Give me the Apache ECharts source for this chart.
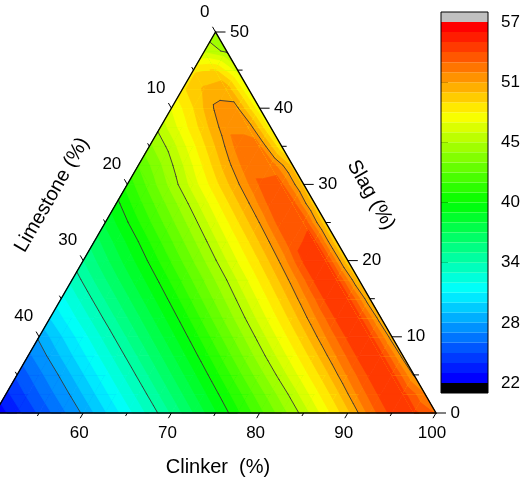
<!DOCTYPE html>
<html><head><meta charset="utf-8">
<script src="https://cdn.jsdelivr.net/npm/echarts@6/dist/echarts.min.js"></script>
<style>html,body{margin:0;padding:0;background:#fff}#c{width:525px;height:480px}</style>
</head><body><div id="c"></div>
<script>
// ---------------- data ----------------
const zMin = 22, zMax = 57, nBands = 36;          // colour scale range and number of bands
const contourEvery = 6;                           // contour line every 6 bands (= colour-bar ticks)
const colorbarTickLabels = ['22', '28', '34', '40', '45', '51', '57'];
const clinkerTicks = [50, 60, 70, 80, 90, 100];
const limestoneTicks = [0, 10, 20, 30, 40, 50];
const slagTicks = [0, 10, 20, 30, 40, 50];
const latticeStep = 2.5;
// Slag (%) of each lattice row
const slagRows = [0, 2.5, 5, 7.5, 10, 12.5, 15, 17.5, 20, 22.5, 25, 27.5, 30, 32.5, 35, 37.5, 40, 42.5, 45, 47.5, 50];
// response values; row r: Slag = slagRows[r], Limestone from (50 - Slag) down to 0 in steps of 2.5
const zRows = [
  [22.2, 23.64, 25.08, 26.53, 28.0, 29.67, 31.33, 33.0, 34.76, 36.58, 38.41, 40.23, 42.05, 43.87, 45.75, 47.84, 49.92, 52.53, 54.44, 54.4, 53.0],
  [23.7, 25.13, 26.57, 28.03, 29.69, 31.35, 33.01, 34.75, 36.55, 38.35, 40.16, 42.0, 43.85, 45.74, 47.8, 49.85, 52.43, 54.38, 54.45, 52.1],
  [25.1, 26.55, 28.03, 29.69, 31.35, 33.01, 34.74, 36.52, 38.29, 40.11, 42.0, 43.89, 45.81, 47.81, 49.81, 52.29, 54.33, 54.5, 51.03],
  [26.6, 28.06, 29.71, 31.36, 33.01, 34.72, 36.48, 38.24, 40.04, 41.96, 43.88, 45.81, 47.79, 49.78, 52.19, 54.33, 54.5, 50.8],
  [28.0, 29.67, 31.33, 33.0, 34.71, 36.45, 38.18, 39.96, 41.88, 43.79, 45.73, 47.73, 49.73, 52.1, 54.3, 54.5, 50.63],
  [29.8, 31.41, 33.02, 34.7, 36.41, 38.13, 39.88, 41.8, 43.72, 45.65, 47.65, 49.65, 51.97, 54.3, 54.5, 50.44],
  [31.4, 33.02, 34.69, 36.38, 38.08, 39.8, 41.7, 43.59, 45.49, 47.5, 49.52, 51.78, 54.3, 54.5, 50.19],
  [33.0, 34.68, 36.35, 38.03, 39.72, 41.59, 43.46, 45.33, 47.36, 49.39, 51.59, 54.28, 54.45, 49.76],
  [34.6, 36.28, 37.96, 39.65, 41.52, 43.38, 45.26, 47.28, 49.27, 51.45, 54.28, 54.4, 49.35],
  [36.1, 37.8, 39.5, 41.37, 43.24, 45.11, 47.14, 49.16, 51.32, 53.9, 54.3, 49.25],
  [37.7, 39.43, 41.27, 43.11, 44.96, 47.0, 49.08, 51.2, 53.8, 53.95, 49.32],
  [39.2, 41.07, 42.94, 44.81, 46.85, 48.97, 51.1, 53.5, 53.6, 49.55],
  [40.8, 42.75, 44.71, 46.77, 48.88, 51.0, 53.2, 53.3, 49.75],
  [42.4, 44.21, 46.19, 48.46, 50.72, 52.9, 52.9, 49.81],
  [44.1, 45.77, 48.0, 50.2, 52.5, 52.3, 48.3],
  [45.7, 47.74, 49.78, 51.9, 51.9, 47.8],
  [47.3, 49.2, 51.35, 51.3, 47.5],
  [49.0, 50.4, 50.9, 47.2],
  [49.0, 49.3, 46.8],
  [46.0, 45.1],
  [44.6]
];

// ---------------- helpers ----------------
const FONT = '"Liberation Sans", Arial, Helvetica, sans-serif';
const SQ = Math.sqrt(3) / 2;
const bw = (zMax - zMin) / nBands;
function toXY(S, L) { const C = 100 - S - L; return [C + S / 2, S * SQ]; }
function bandOf(v) { const k = Math.floor((v - zMin) / bw + 1e-9); return k < 0 ? -1 : (k >= nBands ? nBands : k); }
const stops = [[0, 0, 255], [0, 255, 255], [0, 255, 0], [255, 255, 0], [255, 0, 0]];
function rainbow(t) {
  const p = Math.max(0, Math.min(1, t)) * (stops.length - 1);
  const i = Math.min(stops.length - 2, Math.floor(p)), f = p - i;
  const a = stops[i], b = stops[i + 1];
  return 'rgb(' + a.map((c, n) => Math.round(c + (b[n] - c) * f)).join(',') + ')';
}
function bandColor(k) { if (k < 0) return '#000000'; if (k >= nBands) return '#c0c0c0'; return rainbow(k / (nBands - 1)); }

const tris = [];
for (let i = 0; i < slagRows.length - 1; i++) {
  const row = zRows[i], up = zRows[i + 1], S0 = slagRows[i], S1 = slagRows[i + 1];
  const Lp = (S, j) => 50 - S - latticeStep * j;
  for (let j = 0; j < row.length - 1; j++) {
    tris.push([[S0, Lp(S0, j), row[j]], [S0, Lp(S0, j + 1), row[j + 1]], [S1, Lp(S1, j), up[j]]]);
    if (j + 1 < up.length) tris.push([[S0, Lp(S0, j + 1), row[j + 1]], [S1, Lp(S1, j + 1), up[j + 1]], [S1, Lp(S1, j), up[j]]]);
  }
}
const triData = tris.map(t => { const c = t.map(p => toXY(p[0], p[1])); return [(c[0][0] + c[1][0] + c[2][0]) / 3, (c[0][1] + c[1][1] + c[2][1]) / 3]; });

function clipAbove(poly, lev) {
  const out = [];
  for (let a = 0; a < poly.length; a++) {
    const P = poly[a], Q = poly[(a + 1) % poly.length];
    const pin = P[2] >= lev, qin = Q[2] >= lev;
    if (pin) out.push(P);
    if (pin !== qin) { const t = (lev - P[2]) / (Q[2] - P[2]); out.push([P[0] + t * (Q[0] - P[0]), P[1] + t * (Q[1] - P[1]), lev]); }
  }
  return out;
}
function triPixels(api, idx) { return tris[idx].map(p => { const c = api.coord(toXY(p[0], p[1])); return [c[0], c[1], p[2]]; }); }

function renderFill(params, api) {
  const pts = triPixels(api, params.dataIndex);
  const vals = pts.map(p => p[2]);
  const kLo = bandOf(Math.min(...vals)), kHi = bandOf(Math.max(...vals));
  const children = [];
  const c0 = bandColor(kLo);
  children.push({ type: 'polygon', shape: { points: pts.map(p => [p[0], p[1]]) }, style: { fill: c0, stroke: c0, lineWidth: 0.8, lineJoin: 'round' } });
  for (let k = kLo + 1; k <= kHi; k++) {
    const poly = clipAbove(pts, zMin + k * bw);
    if (poly.length >= 3) {
      const c = bandColor(k);
      children.push({ type: 'polygon', shape: { points: poly.map(p => [p[0], p[1]]) }, style: { fill: c, stroke: c, lineWidth: 0.8, lineJoin: 'round' } });
    }
  }
  return { type: 'group', children };
}
const contourLevels = [];
for (let k = contourEvery; k < nBands; k += contourEvery) contourLevels.push(zMin + k * bw);
function renderLines(params, api) {
  const pts = triPixels(api, params.dataIndex);
  const children = [];
  contourLevels.forEach(lev => {
    const cross = [];
    for (let a = 0; a < 3; a++) {
      const P = pts[a], Q = pts[(a + 1) % 3];
      if ((P[2] >= lev) !== (Q[2] >= lev)) { const t = (lev - P[2]) / (Q[2] - P[2]); cross.push([P[0] + t * (Q[0] - P[0]), P[1] + t * (Q[1] - P[1])]); }
    }
    if (cross.length === 2) children.push({ type: 'line', shape: { x1: cross[0][0], y1: cross[0][1], x2: cross[1][0], y2: cross[1][1] }, style: { stroke: '#353535', lineWidth: 0.9, lineCap: 'round' } });
  });
  return { type: 'group', children };
}
function txt(x, y, s, align, size) {
  return { type: 'text', x, y, style: { text: s, fill: '#000', fontSize: size, fontFamily: FONT, align, verticalAlign: 'middle' } };
}
function renderFrame(params, api) {
  const ch = [];
  const A = api.coord(toXY(50, 0)), BL = api.coord(toXY(0, 50)), BR = api.coord(toXY(0, 0));
  ch.push({ type: 'polygon', shape: { points: [A, BL, BR] }, style: { fill: 'none', stroke: '#000', lineWidth: 1.4 } });
  const tick = (p, dx, dy, len) => ch.push({ type: 'line', shape: { x1: p[0], y1: p[1], x2: p[0] + dx * len, y2: p[1] + dy * len }, style: { stroke: '#000', lineWidth: 1 } });
  const minor = arr => arr.slice(0, -1).map((v, i) => (v + arr[i + 1]) / 2);
  // Clinker (bottom)
  clinkerTicks.forEach(C => { const p = api.coord(toXY(0, 100 - C)); tick(p, -0.5, SQ, 6); ch.push(txt(p[0] - 4, p[1] + 20, String(C), 'center', 17)); });
  minor(clinkerTicks).forEach(C => tick(api.coord(toXY(0, 100 - C)), -0.5, SQ, 3.5));
  // Limestone (left)
  limestoneTicks.forEach(L => { const p = api.coord(toXY(50 - L, L)); tick(p, -0.5, -SQ, 6); ch.push(txt(p[0] - 6, p[1] - 20, String(L), 'right', 17)); });
  minor(limestoneTicks).forEach(L => tick(api.coord(toXY(50 - L, L)), -0.5, -SQ, 3.5));
  // Slag (right)
  slagTicks.forEach(S => { const p = api.coord(toXY(S, 0)); tick(p, 1, 0, 10); ch.push(txt(p[0] + 14.5, p[1], String(S), 'left', 17)); });
  minor(slagTicks).forEach(S => tick(api.coord(toXY(S, 0)), 1, 0, 5));
  return { type: 'group', children: ch };
}
const cbItems = [];
for (let k = -1; k <= nBands; k++) cbItems.push([0.5, k + 0.5]);
function renderBar(params, api) {
  const k = params.dataIndex - 1;
  const p0 = api.coord([0, k]), p1 = api.coord([1, k + 1]);
  return { type: 'rect', shape: { x: p0[0], y: p1[1], width: p1[0] - p0[0], height: p0[1] - p1[1] }, style: { fill: bandColor(k) } };
}
function renderBarBorder(params, api) {
  const p0 = api.coord([0, -1]), p1 = api.coord([1, nBands + 1]);
  return { type: 'rect', shape: { x: p0[0], y: p1[1], width: p1[0] - p0[0], height: p0[1] - p1[1] }, style: { fill: 'none', stroke: '#000', lineWidth: 1 } };
}
const cbTickVals = colorbarTickLabels.map((_, i) => i * contourEvery);

const chart = echarts.init(document.getElementById('c'), null, { renderer: 'canvas' });
chart.setOption({
  animation: false,
  backgroundColor: '#ffffff',
  grid: [
    { left: -5, top: 32, width: 441, height: 381, outerBoundsMode: 'none' },
    { left: 441, top: 12, width: 47, height: 381, outerBoundsMode: 'none' }
  ],
  xAxis: [
    { gridIndex: 0, type: 'value', min: 50, max: 100, show: false },
    { gridIndex: 1, type: 'value', min: 0, max: 1, show: false }
  ],
  yAxis: [
    { gridIndex: 0, type: 'value', min: 0, max: 50 * SQ, show: false },
    {
      gridIndex: 1, type: 'value', min: -1, max: nBands + 1, position: 'right',
      axisLine: { show: false }, splitLine: { show: false },
      axisTick: { show: true, customValues: cbTickVals, length: 7, lineStyle: { color: '#000', width: 1 } },
      axisLabel: { customValues: cbTickVals, margin: 13, fontSize: 17, color: '#000', fontFamily: FONT,
        formatter: v => colorbarTickLabels[Math.round(v / contourEvery)] }
    }
  ],
  graphic: [
    { type: 'text', x: 218, y: 467, style: { text: 'Clinker  (%)', fontSize: 20, fontFamily: FONT, fill: '#000', align: 'center', verticalAlign: 'middle' } },
    { type: 'text', x: 52, y: 195, rotation: Math.PI / 3, style: { text: 'Limestone (%)', fontSize: 20, fontFamily: FONT, fill: '#000', align: 'center', verticalAlign: 'middle' } },
    { type: 'text', x: 371, y: 195, rotation: -Math.PI / 3, style: { text: 'Slag (%)', fontSize: 20, fontFamily: FONT, fill: '#000', align: 'center', verticalAlign: 'middle' } }
  ],
  series: [
    { type: 'custom', xAxisIndex: 0, yAxisIndex: 0, data: triData, renderItem: renderFill, clip: false, z: 1 },
    { type: 'custom', xAxisIndex: 0, yAxisIndex: 0, data: triData, renderItem: renderLines, clip: false, z: 2 },
    { type: 'custom', xAxisIndex: 0, yAxisIndex: 0, data: [[75, 20]], renderItem: renderFrame, clip: false, z: 3 },
    { type: 'custom', xAxisIndex: 1, yAxisIndex: 1, data: cbItems, renderItem: renderBar, clip: true, z: 1 },
    { type: 'custom', xAxisIndex: 1, yAxisIndex: 1, data: [[0.5, 18]], renderItem: renderBarBorder, clip: false, z: 3 }
  ]
});
</script></body></html>
